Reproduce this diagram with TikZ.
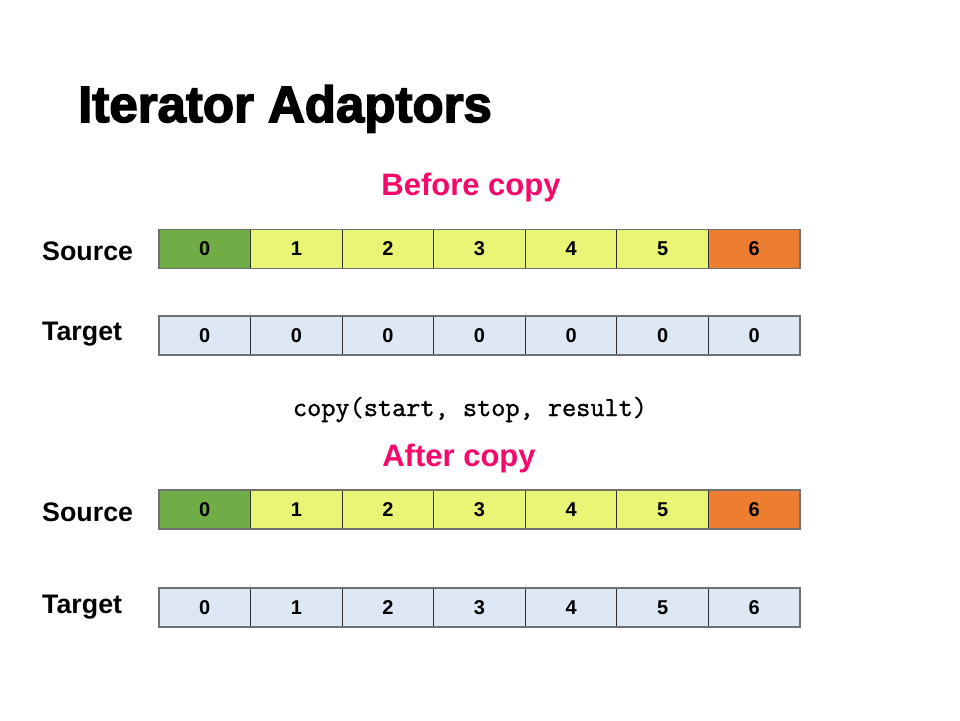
\documentclass[tikz,border=0pt]{standalone}
\usepackage{fontspec}
\setmainfont{Liberation Sans}
\newfontfamily\titlefont[FakeBold=3]{Liberation Sans Bold}
\newfontfamily\codefont[FakeBold=1.2]{Latin Modern Mono}
\definecolor{pinkc}{HTML}{F5086A}
\definecolor{greenc}{HTML}{70AD47}
\definecolor{yellowc}{HTML}{E9F574}
\definecolor{orangec}{HTML}{ED7D31}
\definecolor{bluec}{HTML}{DEE8F4}
\definecolor{edgec}{HTML}{303030}
\definecolor{outerc}{HTML}{707070}
\begin{document}
\begin{tikzpicture}[x=1pt,y=-1pt,
  cell/.style={draw=edgec,line width=0.9pt,minimum width=91.57pt,minimum height=39pt,inner sep=0pt,outer sep=0pt,anchor=north west,font=\fontsize{20}{20}\selectfont\bfseries},
  lbl/.style={anchor=base west,inner sep=0pt,font=\fontsize{26.8}{27}\selectfont\bfseries},
  head/.style={anchor=base,inner sep=0pt,text=pinkc,font=\fontsize{31}{31}\selectfont\bfseries}]
\useasboundingbox[fill=white] (0,0) rectangle (960,720);
\node[anchor=base west,inner sep=0pt,font=\fontsize{51}{51}\titlefont] (title) at (78,122) {Iterator Adaptors};
\node[head] (before) at (471,195) {Before copy};
\node[head] (after) at (459,466) {After copy};
\node[anchor=base,inner sep=0pt,font=\fontsize{27.5}{28}\codefont] (code) at (470,416) {copy(start, stop, result)};
\node[lbl] (src1) at (42,260) {Source};
\node[lbl] (tgt1) at (42,340) {Target};
\node[lbl] (src2) at (42,521) {Source};
\node[lbl] (tgt2) at (42,613) {Target};
\foreach \i/\c in {0/greenc,1/yellowc,2/yellowc,3/yellowc,4/yellowc,5/yellowc,6/orangec}
  \node[cell,fill=\c] (sa\i) at ({159+91.57*\i},229.5) {\i};
\foreach \i in {0,...,6}
  \node[cell,fill=bluec] (ta\i) at ({159+91.57*\i},316) {0};
\foreach \i/\c in {0/greenc,1/yellowc,2/yellowc,3/yellowc,4/yellowc,5/yellowc,6/orangec}
  \node[cell,fill=\c] (sb\i) at ({159+91.57*\i},490) {\i};
\foreach \i in {0,...,6}
  \node[cell,fill=bluec] (tb\i) at ({159+91.57*\i},588) {\i};
\foreach \r in {sa,ta,sb,tb}
  \draw[outerc,line width=1.3pt] (\r0.north west) rectangle (\r6.south east);
\end{tikzpicture}
\end{document}
